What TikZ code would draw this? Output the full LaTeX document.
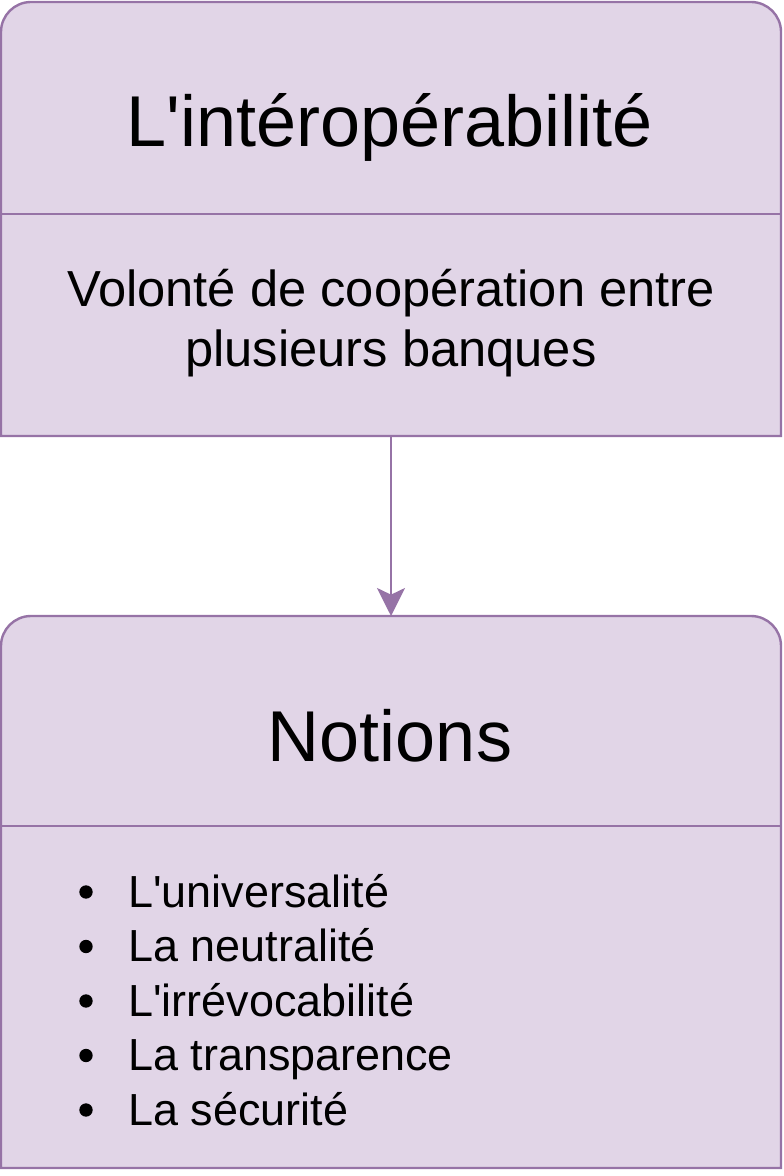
\documentclass[tikz,border=0pt]{standalone}
\usepackage{fontspec}
\setmainfont{Liberation Sans}[Ligatures=TeXOff]
\usetikzlibrary{arrows.meta}
\definecolor{pfill}{HTML}{E1D5E7}
\definecolor{pline}{HTML}{9673A6}
\begin{document}
\begin{tikzpicture}[x=0.75pt,y=-0.75pt,
  box/.style={fill=pfill,draw=pline,line width=1.8pt},
  divider/.style={draw=pline,line width=1.8pt},
  frame/.style={inner sep=0pt,outer sep=0pt,minimum width=585pt},
  titletext/.style={anchor=base,inner sep=0pt,font=\fontsize{54pt}{64pt}\selectfont},
  bodytext/.style={anchor=base,inner sep=0pt,font=\fontsize{38pt}{45pt}\selectfont},
  itemtext/.style={anchor=base west,inner sep=0pt,font=\fontsize{33.7pt}{41pt}\selectfont},
  dot/.style={circle,fill=black,inner sep=0pt,minimum size=10pt},
  conn/.style={draw=pline,line width=1.8pt,-{Stealth[length=21pt,width=21pt,inset=5pt]}}]
\useasboundingbox (0,0) rectangle (783,1176);
% top box
\draw[box] (1,436) -- (1,32) arc[start angle=180,end angle=270,radius=30]
  -- (751,2) arc[start angle=270,end angle=360,radius=30] -- (781,436) -- cycle;
\draw[divider] (1,214) -- (781,214);
% bottom box
\draw[box] (1,1168) -- (1,646) arc[start angle=180,end angle=270,radius=30]
  -- (751,616) arc[start angle=270,end angle=360,radius=30] -- (781,1168) -- cycle;
\draw[divider] (1,826) -- (781,826);
% frame nodes
\node[frame,minimum height=325.5pt] (topbox) at (391,219) {};
\node[frame,minimum height=414pt] (botbox) at (391,892) {};
% texts
\node[titletext] (t1) at (390,147) {L'intéropérabilité};
\node[bodytext] (b1) at (391,307) {Volonté de coopération entre};
\node[bodytext] (b2) at (391,367) {plusieurs banques};
\node[titletext] (t2) at (390,761) {Notions};
\node[dot] (d1) at (86,892) {};
\node[dot] (d2) at (86,946.5) {};
\node[dot] (d3) at (86,1001) {};
\node[dot] (d4) at (86,1055.5) {};
\node[dot] (d5) at (86,1110) {};
\node[itemtext] (i1) at (128,907) {L'universalité};
\node[itemtext] (i2) at (128,961.5) {La neutralité};
\node[itemtext] (i3) at (128,1016) {L'irrévocabilité};
\node[itemtext] (i4) at (128,1070.5) {La transparence};
\node[itemtext] (i5) at (128,1125) {La sécurité};
% connector
\draw[conn] (topbox.south) -- (botbox.north);
\end{tikzpicture}
\end{document}
